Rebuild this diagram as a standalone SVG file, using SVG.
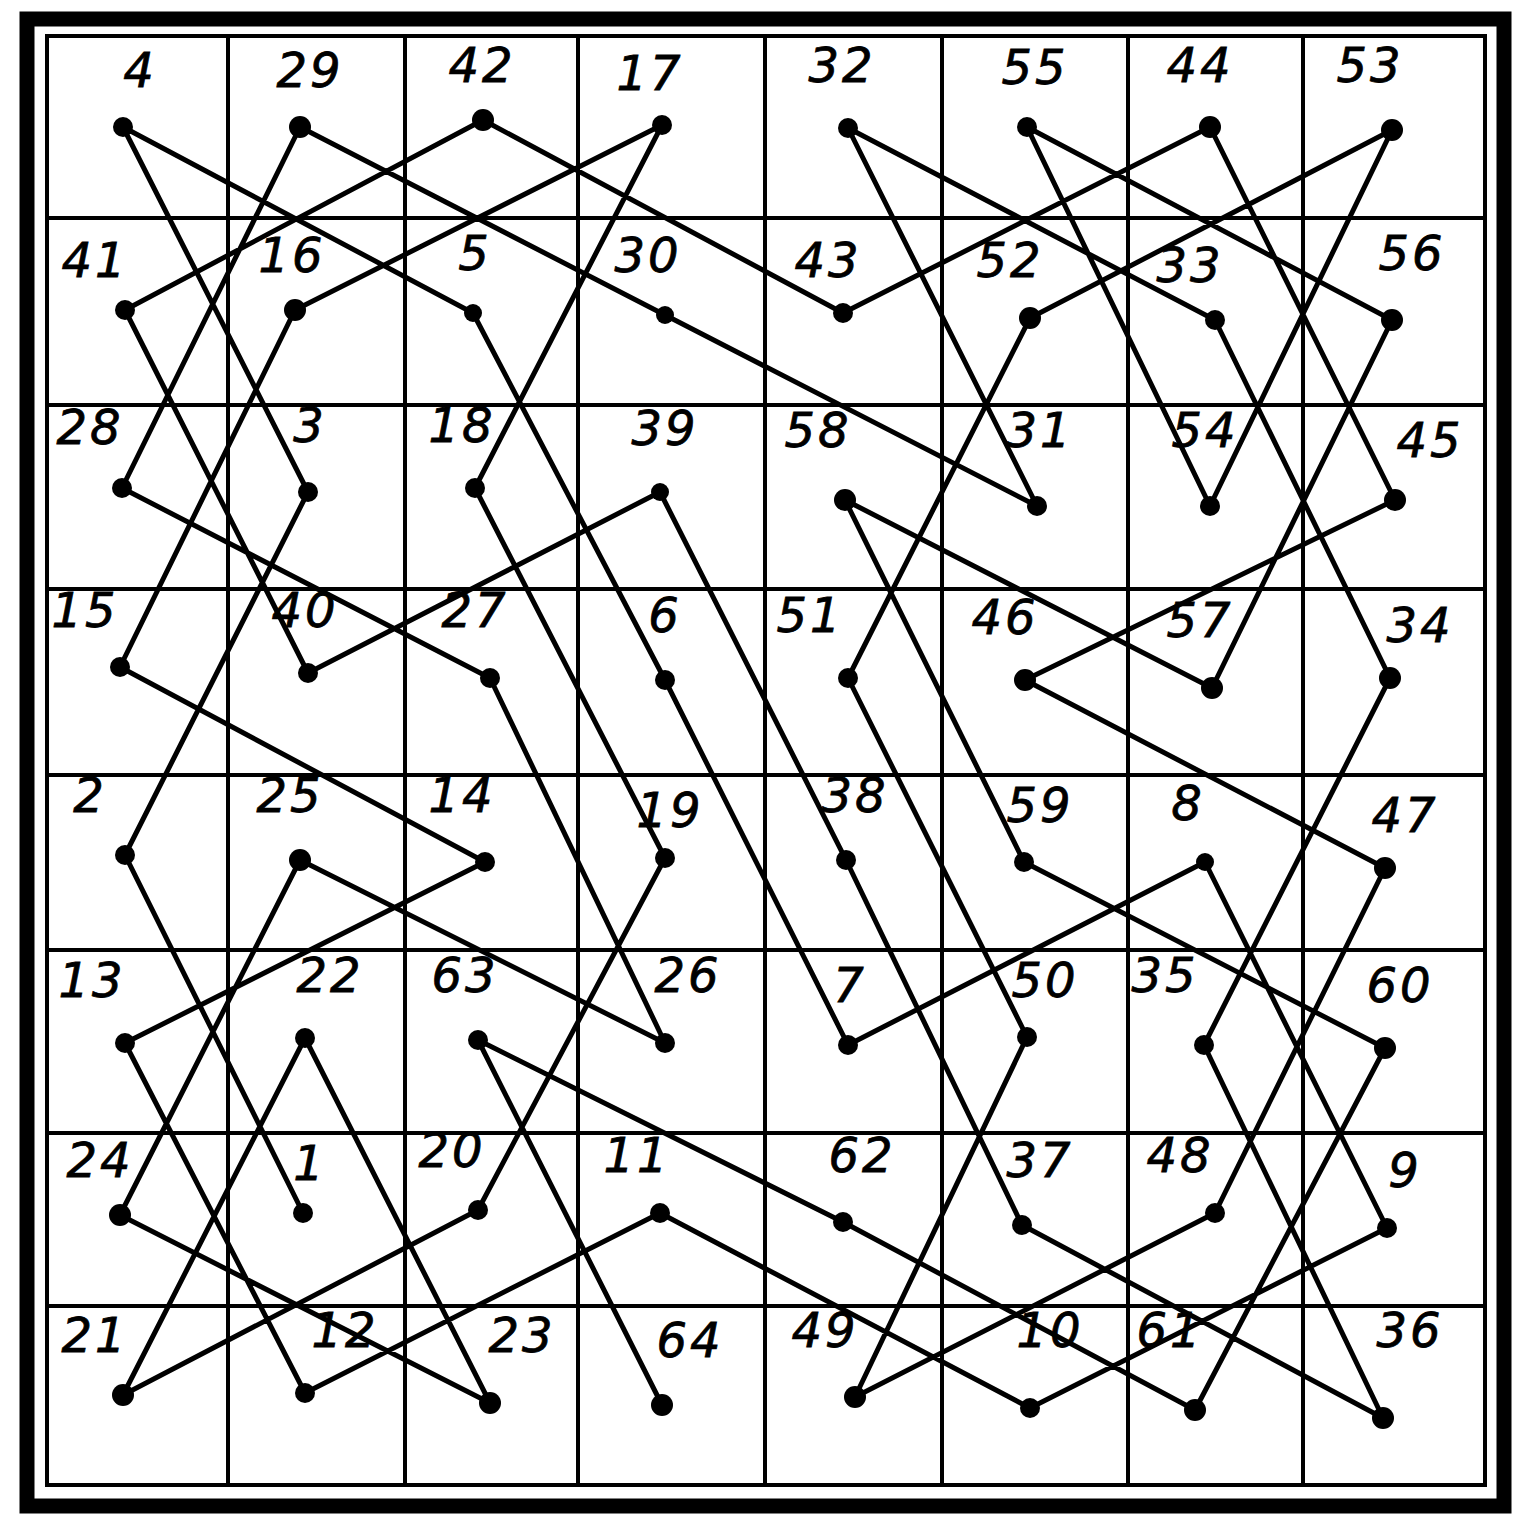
<svg xmlns="http://www.w3.org/2000/svg" width="1524" height="1530" viewBox="0 0 1524 1530">
<style>
.frame{fill:none;stroke:#000;stroke-width:15}
.grid{fill:none;stroke:#000;stroke-width:4}
.tour{fill:none;stroke:#000;stroke-width:5;stroke-linejoin:round;stroke-linecap:round}
.dot{fill:#000}
.lbl{font-family:"DejaVu Sans","Liberation Sans",sans-serif;font-style:italic;font-size:48px;letter-spacing:3px;fill:#000;stroke:#000;stroke-width:0.8;text-anchor:middle}
</style>
<rect width="1524" height="1530" fill="#fff"/>
<g id="board">
<rect class="frame" x="27" y="19" width="1477" height="1487"/>
<rect class="grid" x="47" y="36" width="1438" height="1449"/>
<path class="grid" d="M228 36V1485M405 36V1485M578 36V1485M765 36V1485M942 36V1485M1128 36V1485M1303 36V1485M47 218H1485M47 405H1485M47 589H1485M47 775H1485M47 950H1485M47 1133H1485M47 1306H1485"/>
</g>
<g id="connectors">
<polyline class="tour" points="303,1213 125,855 308,492 123,127 473,313 665,680 848,1045 1205,862 1387,1228 1030,1408 660,1213 305,1393 125,1043 485,862 120,667 295,310 662,125 475,488 665,858 478,1210 123,1395 305,1038 490,1403 120,1215 300,860 665,1043 490,678 122,488 300,127 665,315 1037,506 848,128 1215,320 1390,678 1204,1045 1383,1418 1022,1225 846,860 660,492 308,673 125,310 483,120 843,313 1210,127 1395,500 1025,680 1385,868 1215,1213 855,1397 1027,1037 848,678 1030,318 1392,130 1210,506 1027,127 1392,320 1212,688 845,500 1024,862 1385,1048 1195,1410 843,1222 478,1040 662,1405"/>
</g>
<g id="n1"><circle class="dot" cx="303" cy="1213" r="10"/><text class="lbl" x="310" y="1180">1</text></g>
<g id="n2"><circle class="dot" cx="125" cy="855" r="10"/><text class="lbl" x="90" y="812">2</text></g>
<g id="n3"><circle class="dot" cx="308" cy="492" r="10"/><text class="lbl" x="310" y="442">3</text></g>
<g id="n4"><circle class="dot" cx="123" cy="127" r="10"/><text class="lbl" x="140" y="87">4</text></g>
<g id="n5"><circle class="dot" cx="473" cy="313" r="9"/><text class="lbl" x="475" y="270">5</text></g>
<g id="n6"><circle class="dot" cx="665" cy="680" r="10"/><text class="lbl" x="665" y="632">6</text></g>
<g id="n7"><circle class="dot" cx="848" cy="1045" r="10"/><text class="lbl" x="850" y="1002">7</text></g>
<g id="n8"><circle class="dot" cx="1205" cy="862" r="9"/><text class="lbl" x="1188" y="820">8</text></g>
<g id="n9"><circle class="dot" cx="1387" cy="1228" r="10"/><text class="lbl" x="1405" y="1187">9</text></g>
<g id="n10"><circle class="dot" cx="1030" cy="1408" r="10"/><text class="lbl" x="1050" y="1347">10</text></g>
<g id="n11"><circle class="dot" cx="660" cy="1213" r="10"/><text class="lbl" x="637" y="1172">11</text></g>
<g id="n12"><circle class="dot" cx="305" cy="1393" r="10"/><text class="lbl" x="345" y="1347">12</text></g>
<g id="n13"><circle class="dot" cx="125" cy="1043" r="10"/><text class="lbl" x="92" y="997">13</text></g>
<g id="n14"><circle class="dot" cx="485" cy="862" r="10"/><text class="lbl" x="462" y="812">14</text></g>
<g id="n15"><circle class="dot" cx="120" cy="667" r="10"/><text class="lbl" x="85" y="627">15</text></g>
<g id="n16"><circle class="dot" cx="295" cy="310" r="11"/><text class="lbl" x="292" y="272">16</text></g>
<g id="n17"><circle class="dot" cx="662" cy="125" r="10"/><text class="lbl" x="650" y="90">17</text></g>
<g id="n18"><circle class="dot" cx="475" cy="488" r="10"/><text class="lbl" x="462" y="442">18</text></g>
<g id="n19"><circle class="dot" cx="665" cy="858" r="10"/><text class="lbl" x="670" y="827">19</text></g>
<g id="n20"><circle class="dot" cx="478" cy="1210" r="10"/><text class="lbl" x="452" y="1167">20</text></g>
<g id="n21"><circle class="dot" cx="123" cy="1395" r="11"/><text class="lbl" x="95" y="1352">21</text></g>
<g id="n22"><circle class="dot" cx="305" cy="1038" r="10"/><text class="lbl" x="330" y="992">22</text></g>
<g id="n23"><circle class="dot" cx="490" cy="1403" r="11"/><text class="lbl" x="522" y="1352">23</text></g>
<g id="n24"><circle class="dot" cx="120" cy="1215" r="11"/><text class="lbl" x="100" y="1177">24</text></g>
<g id="n25"><circle class="dot" cx="300" cy="860" r="11"/><text class="lbl" x="290" y="812">25</text></g>
<g id="n26"><circle class="dot" cx="665" cy="1043" r="10"/><text class="lbl" x="688" y="992">26</text></g>
<g id="n27"><circle class="dot" cx="490" cy="678" r="10"/><text class="lbl" x="475" y="627">27</text></g>
<g id="n28"><circle class="dot" cx="122" cy="488" r="10"/><text class="lbl" x="90" y="444">28</text></g>
<g id="n29"><circle class="dot" cx="300" cy="127" r="11"/><text class="lbl" x="310" y="87">29</text></g>
<g id="n30"><circle class="dot" cx="665" cy="315" r="9"/><text class="lbl" x="648" y="272">30</text></g>
<g id="n31"><circle class="dot" cx="1037" cy="506" r="10"/><text class="lbl" x="1040" y="447">31</text></g>
<g id="n32"><circle class="dot" cx="848" cy="128" r="10"/><text class="lbl" x="842" y="82">32</text></g>
<g id="n33"><circle class="dot" cx="1215" cy="320" r="10"/><text class="lbl" x="1190" y="282">33</text></g>
<g id="n34"><circle class="dot" cx="1390" cy="678" r="11"/><text class="lbl" x="1420" y="642">34</text></g>
<g id="n35"><circle class="dot" cx="1204" cy="1045" r="10"/><text class="lbl" x="1165" y="992">35</text></g>
<g id="n36"><circle class="dot" cx="1383" cy="1418" r="11"/><text class="lbl" x="1410" y="1347">36</text></g>
<g id="n37"><circle class="dot" cx="1022" cy="1225" r="10"/><text class="lbl" x="1040" y="1177">37</text></g>
<g id="n38"><circle class="dot" cx="846" cy="860" r="10"/><text class="lbl" x="855" y="812">38</text></g>
<g id="n39"><circle class="dot" cx="660" cy="492" r="9"/><text class="lbl" x="665" y="445">39</text></g>
<g id="n40"><circle class="dot" cx="308" cy="673" r="10"/><text class="lbl" x="305" y="627">40</text></g>
<g id="n41"><circle class="dot" cx="125" cy="310" r="10"/><text class="lbl" x="95" y="277">41</text></g>
<g id="n42"><circle class="dot" cx="483" cy="120" r="11"/><text class="lbl" x="482" y="82">42</text></g>
<g id="n43"><circle class="dot" cx="843" cy="313" r="10"/><text class="lbl" x="828" y="277">43</text></g>
<g id="n44"><circle class="dot" cx="1210" cy="127" r="11"/><text class="lbl" x="1200" y="82">44</text></g>
<g id="n45"><circle class="dot" cx="1395" cy="500" r="11"/><text class="lbl" x="1430" y="457">45</text></g>
<g id="n46"><circle class="dot" cx="1025" cy="680" r="11"/><text class="lbl" x="1005" y="634">46</text></g>
<g id="n47"><circle class="dot" cx="1385" cy="868" r="11"/><text class="lbl" x="1405" y="832">47</text></g>
<g id="n48"><circle class="dot" cx="1215" cy="1213" r="10"/><text class="lbl" x="1180" y="1172">48</text></g>
<g id="n49"><circle class="dot" cx="855" cy="1397" r="11"/><text class="lbl" x="825" y="1347">49</text></g>
<g id="n50"><circle class="dot" cx="1027" cy="1037" r="10"/><text class="lbl" x="1045" y="997">50</text></g>
<g id="n51"><circle class="dot" cx="848" cy="678" r="10"/><text class="lbl" x="810" y="632">51</text></g>
<g id="n52"><circle class="dot" cx="1030" cy="318" r="11"/><text class="lbl" x="1010" y="277">52</text></g>
<g id="n53"><circle class="dot" cx="1392" cy="130" r="11"/><text class="lbl" x="1370" y="82">53</text></g>
<g id="n54"><circle class="dot" cx="1210" cy="506" r="10"/><text class="lbl" x="1205" y="447">54</text></g>
<g id="n55"><circle class="dot" cx="1027" cy="127" r="10"/><text class="lbl" x="1035" y="84">55</text></g>
<g id="n56"><circle class="dot" cx="1392" cy="320" r="11"/><text class="lbl" x="1412" y="270">56</text></g>
<g id="n57"><circle class="dot" cx="1212" cy="688" r="11"/><text class="lbl" x="1200" y="637">57</text></g>
<g id="n58"><circle class="dot" cx="845" cy="500" r="11"/><text class="lbl" x="818" y="447">58</text></g>
<g id="n59"><circle class="dot" cx="1024" cy="862" r="10"/><text class="lbl" x="1040" y="822">59</text></g>
<g id="n60"><circle class="dot" cx="1385" cy="1048" r="11"/><text class="lbl" x="1400" y="1002">60</text></g>
<g id="n61"><circle class="dot" cx="1195" cy="1410" r="11"/><text class="lbl" x="1170" y="1347">61</text></g>
<g id="n62"><circle class="dot" cx="843" cy="1222" r="10"/><text class="lbl" x="862" y="1172">62</text></g>
<g id="n63"><circle class="dot" cx="478" cy="1040" r="10"/><text class="lbl" x="465" y="992">63</text></g>
<g id="n64"><circle class="dot" cx="662" cy="1405" r="11"/><text class="lbl" x="690" y="1357">64</text></g>
</svg>
